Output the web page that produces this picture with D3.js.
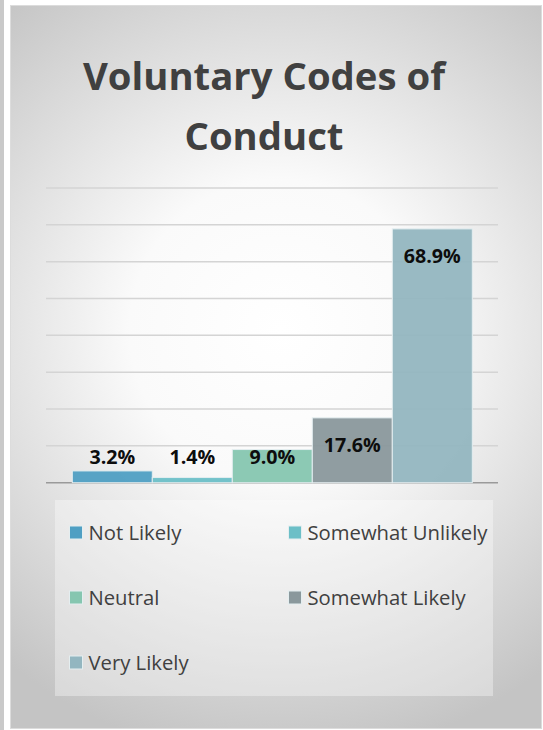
<!DOCTYPE html>
<html>
<head>
<meta charset="utf-8">
<script src="https://cdn.jsdelivr.net/npm/d3@7"></script>
<style>
  html, body { margin: 0; padding: 0; background: #fff; }
  svg { display: block; }
</style>
</head>
<body>
<div id="chart"></div>
<script>
var categories = ['Not Likely', 'Somewhat Unlikely', 'Neutral', 'Somewhat Likely', 'Very Likely'],
    values = [3.2, 1.4, 9.0, 17.6, 68.9],
    colors = ['#4f9fc3', '#6cbfc7', '#86c6b0', '#8a989c', '#93b6c0'],
    yTicks = [0, 10, 20, 30, 40, 50, 60, 70, 80],
    titleLines = ['Voluntary Codes of', 'Conduct'];

var width = 543, height = 730,
    font = '"Open Sans", Lato, sans-serif';

var svg = d3.select('#chart').append('svg')
    .attr('width', width)
    .attr('height', height);

var defs = svg.append('defs');
var grad = defs.append('radialGradient')
    .attr('id', 'bg')
    .attr('gradientUnits', 'userSpaceOnUse')
    .attr('cx', 280).attr('cy', 330).attr('r', 430);
grad.append('stop').attr('offset', '0%').attr('stop-color', '#ffffff');
grad.append('stop').attr('offset', '35%').attr('stop-color', '#fafafa');
grad.append('stop').attr('offset', '100%').attr('stop-color', '#c4c4c4');

// left strip of the neighbouring slide
svg.append('rect')
    .attr('x', 0).attr('y', 0).attr('width', 4).attr('height', height)
    .attr('fill', '#c9c9c9');

// frame
svg.append('rect')
    .attr('x', 10.5).attr('y', 5.5).attr('width', 531).attr('height', 723)
    .attr('fill', 'url(#bg)')
    .attr('stroke', '#dcdcdc')
    .attr('stroke-width', 1);

// shrink a text to a given width, keeping it as real text
var fitWidth = function (sel, target) {
    sel.each(function () {
        var w = this.getComputedTextLength(),
            fs = parseFloat(d3.select(this).attr('font-size'));
        if (w > 0) {
            d3.select(this).attr('font-size', (fs * target / w).toFixed(2) + 'px');
        }
    });
};

// title
var title = svg.append('g').selectAll('text')
    .data(titleLines)
    .enter().append('text')
    .attr('x', 264)
    .attr('y', function (d, i) { return 90 + i * 60; })
    .attr('text-anchor', 'middle')
    .attr('font-family', font)
    .attr('font-weight', 'bold')
    .attr('font-size', '32px')
    .attr('fill', '#404040')
    .text(function (d) { return d; });
fitWidth(title.filter(function (d, i) { return i === 0; }), 362);
title.attr('font-size', title.filter(function (d, i) { return i === 0; }).attr('font-size'));

var plot = { left: 46, right: 498, top: 188, bottom: 482.7 };

var y = d3.scaleLinear()
    .domain([0, 80])
    .range([plot.bottom, plot.top]);

var x = d3.scaleBand()
    .domain(categories)
    .range([plot.left + 26.3, plot.right - 25.7])
    .padding(0);

// gridlines
svg.append('g')
    .attr('class', 'grid')
    .selectAll('line')
    .data(yTicks)
    .enter().append('line')
    .attr('x1', plot.left)
    .attr('x2', plot.right)
    .attr('y1', function (d) { return y(d); })
    .attr('y2', function (d) { return y(d); })
    .attr('stroke', function (d) { return d === 0 ? '#9a9a9a' : '#d4d4d4'; })
    .attr('stroke-width', 1.5);

// bars
svg.append('g')
    .selectAll('rect')
    .data(values)
    .enter().append('rect')
    .attr('x', function (d, i) { return x(categories[i]); })
    .attr('y', function (d) { return y(d); })
    .attr('width', x.bandwidth())
    .attr('height', function (d) { return y(0) - y(d); })
    .attr('fill', function (d, i) { return colors[i]; })
    .attr('fill-opacity', 0.95)
    .attr('stroke', '#e4eef0')
    .attr('stroke-width', 1);

// data labels
var labels = svg.append('g')
    .selectAll('text')
    .data(values)
    .enter().append('text')
    .attr('x', function (d, i) { return x(categories[i]) + x.bandwidth() / 2; })
    .attr('y', function (d) { return Math.min(y(d) + 27, y(0) - 26); })
    .attr('dy', '0.35em')
    .attr('text-anchor', 'middle')
    .attr('font-family', font)
    .attr('font-weight', 'bold')
    .attr('font-size', '16px')
    .attr('fill', '#0d0d0d')
    .text(function (d) { return d.toFixed(1) + '%'; });
fitWidth(labels.filter(function (d, i) { return i === 4; }), 57);
labels.attr('font-size', labels.filter(function (d, i) { return i === 4; }).attr('font-size'));

// legend
var legend = svg.append('g');
legend.append('rect')
    .attr('x', 55).attr('y', 500).attr('width', 438).attr('height', 196)
    .attr('fill', '#ffffff')
    .attr('fill-opacity', 0.35);

var item = legend.selectAll('.item')
    .data(categories)
    .enter().append('g')
    .attr('class', 'item')
    .attr('transform', function (d, i) {
        return 'translate(' + (i % 2 === 0 ? 69.5 : 288.5) + ',' + (532.5 + Math.floor(i / 2) * 65) + ')';
    });

item.append('rect')
    .attr('x', 0).attr('y', -6.5)
    .attr('width', 13).attr('height', 13)
    .attr('fill', function (d, i) { return colors[i]; })
    .attr('stroke', '#e4eef0')
    .attr('stroke-width', 1);

var legendText = item.append('text')
    .attr('x', 19)
    .attr('dy', '0.35em')
    .attr('font-family', font)
    .attr('font-size', '17px')
    .attr('fill', '#404040')
    .text(function (d) { return d; });
fitWidth(legendText.filter(function (d, i) { return i === 1; }), 180);
legendText.attr('font-size', legendText.filter(function (d, i) { return i === 1; }).attr('font-size'));
</script>
</body>
</html>
